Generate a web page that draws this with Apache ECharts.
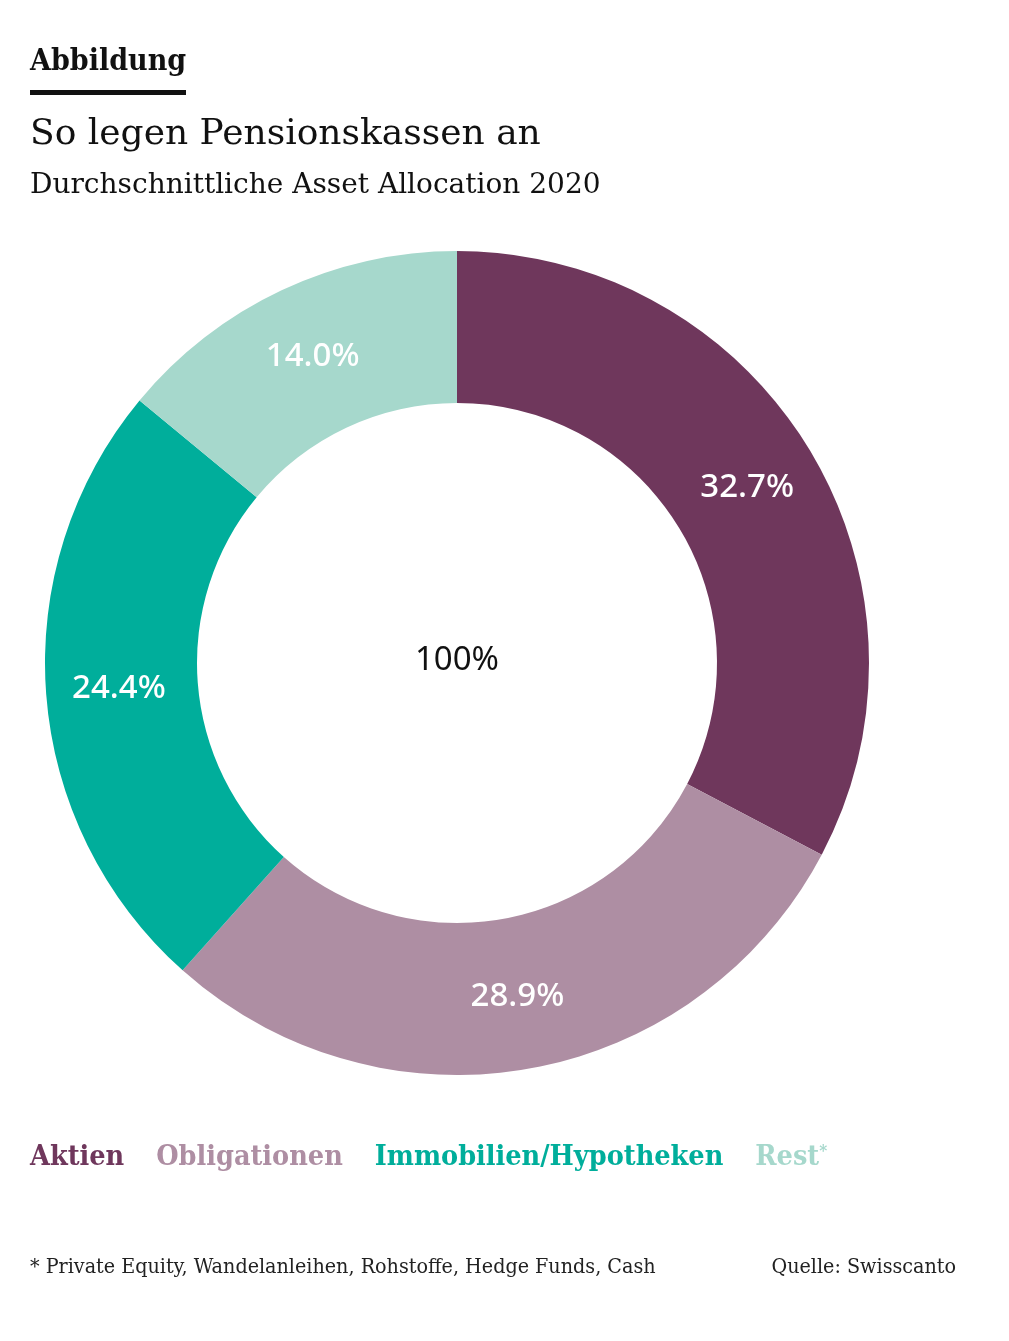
<!DOCTYPE html>
<html>
<head>
    <meta charset="utf-8">
    <title>So legen Pensionskassen an</title>
    <script src="https://cdn.jsdelivr.net/npm/echarts@6.0.0/dist/echarts.min.js"></script>
    <style>
        html, body {
            margin: 0;
            padding: 0;
            background: #fff;
        }

        #chart {
            width: 1009px;
            height: 1341px;
        }
    </style>
</head>
<body>
<div id="chart"></div>

<script>
    // Daten
    var categories = ['Aktien', 'Obligationen', 'Immobilien/Hypotheken', 'Rest'];
    var shares = [32.7, 28.9, 24.4, 14.0];
    var colors = ['#6f375c', '#ae8ea3', '#00ae9b', '#a6d8cc'];
    var totalLabel = '100%';

    var serif = '"DejaVu Serif", serif';
    var serifCond = '"DejaVu Serif Condensed", "DejaVu Serif", serif';
    var sans = '"Noto Sans", "Open Sans", sans-serif';

    var chart = echarts.init(document.getElementById('chart'));

    var pieData = categories.map(function (name, i) {
        return { name: name, value: shares[i], itemStyle: { color: colors[i] } };
    });

    var legendData = categories.map(function (name, i) {
        return { name: name, textStyle: { color: colors[i] } };
    });

    var option = {
        animation: false,
        backgroundColor: '#fff',
        title: [
            {
                text: 'Abbildung',
                left: 30,
                top: 47,
                padding: 0,
                textStyle: { fontFamily: serifCond, fontSize: 30, fontWeight: 'bold', color: '#111' }
            },
            {
                text: 'So legen Pensionskassen an',
                left: 30,
                top: 117,
                padding: 0,
                textStyle: { fontFamily: serif, fontSize: 36, fontWeight: 'normal', color: '#111' }
            },
            {
                text: 'Durchschnittliche Asset Allocation 2020',
                left: 30,
                top: 172,
                padding: 0,
                textStyle: { fontFamily: serif, fontSize: 28, fontWeight: 'normal', color: '#111' }
            },
            {
                text: '* Private Equity, Wandelanleihen, Rohstoffe, Hedge Funds, Cash',
                left: 30,
                top: 1257,
                padding: 0,
                textStyle: { fontFamily: serifCond, fontSize: 21.3, fontWeight: 'normal', color: '#222' }
            },
            {
                text: 'Quelle: Swisscanto',
                right: 53,
                top: 1257,
                padding: 0,
                textStyle: { fontFamily: serifCond, fontSize: 21.3, fontWeight: 'normal', color: '#222' }
            }
        ],
        graphic: [
            {
                type: 'rect',
                shape: { x: 30, y: 90, width: 156, height: 5 },
                style: { fill: '#111' }
            },
            {
                type: 'text',
                x: 457,
                y: 661,
                style: {
                    text: totalLabel,
                    fontFamily: sans,
                    fontSize: 33,
                    fill: '#111',
                    align: 'center',
                    verticalAlign: 'middle'
                }
            }
        ],
        legend: {
            left: 25,
            top: 1143,
            padding: 0,
            icon: 'none',
            itemWidth: 0,
            itemHeight: 0,
            itemGap: 27,
            selectedMode: false,
            data: legendData,
            formatter: function (name) {
                return name === 'Rest' ? '{n|Rest}{s|*}' : '{n|' + name + '}';
            },
            textStyle: {
                fontFamily: serifCond,
                fontSize: 28.5,
                fontWeight: 'bold',
                rich: {
                    n: { fontFamily: serifCond, fontSize: 28.5, fontWeight: 'bold' },
                    s: { fontFamily: serifCond, fontSize: 17, fontWeight: 'bold', verticalAlign: 'top', padding: [0, 0, 12, 0] }
                }
            }
        },
        series: [
            {
                type: 'pie',
                center: [457, 663],
                radius: [260, 412],
                startAngle: 90,
                clockwise: true,
                silent: true,
                data: pieData,
                label: {
                    show: true,
                    position: 'inside',
                    formatter: function (p) { return p.value.toFixed(1) + '%'; },
                    color: '#fff',
                    fontFamily: sans,
                    fontSize: 33,
                    fontWeight: 500
                },
                labelLine: { show: false },
                itemStyle: { borderWidth: 0 }
            }
        ]
    };

    chart.setOption(option);
</script>
</body>
</html>
